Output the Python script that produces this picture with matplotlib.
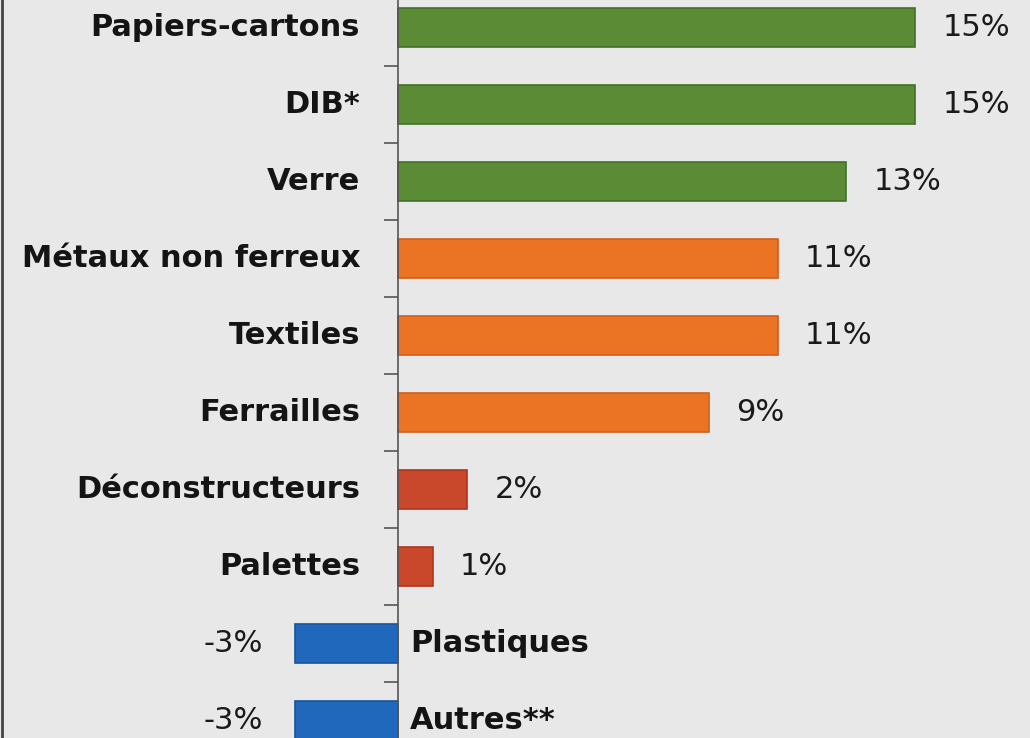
import matplotlib
matplotlib.use("Agg")
from matplotlib import pyplot as plt
import numpy as np

# chart data
categories = ["Papiers-cartons", "DIB*", "Verre", "Métaux non ferreux", "Textiles",
              "Ferrailles", "Déconstructeurs", "Palettes", "Plastiques", "Autres**"]
values = [15, 15, 13, 11, 11, 9, 2, 1, -3, -3]
value_labels = ["15%", "15%", "13%", "11%", "11%", "9%", "2%", "1%", "-3%", "-3%"]
groups = ["vert", "vert", "vert", "orange", "orange", "orange", "rouge", "rouge", "bleu", "bleu"]

colors = {"vert": "#5b8c35", "orange": "#ea7424", "rouge": "#c9472b", "bleu": "#1f68bb"}
edges = {"vert": "#44702a", "orange": "#d0601a", "rouge": "#ad3520", "bleu": "#17559c"}


def main():
    fig = plt.figure(figsize=(10.3, 7.38), dpi=100)
    fig.patch.set_facecolor("#e8e8e8")
    ax = fig.add_axes([0, 0, 1, 1])
    ax.set_facecolor("#e8e8e8")

    y = np.arange(len(categories))
    ax.barh(y, values, height=0.51,
            color=[colors[g] for g in groups],
            edgecolor=[edges[g] for g in groups], linewidth=1.2, zorder=2)

    # axes limits chosen so the zero line sits where the original has it
    ax.set_xlim(-11.54, 18.32)
    ax.set_ylim(9.23, -0.36)

    # only the zero line with small ticks between the categories
    for s in ["top", "right", "bottom"]:
        ax.spines[s].set_visible(False)
    ax.spines["left"].set_position(("data", 0))
    ax.spines["left"].set_color("#555555")
    ax.spines["left"].set_linewidth(1.2)
    ax.set_xticks([])
    ax.set_yticks(y[:-1] + 0.5)
    ax.set_yticklabels([])
    ax.tick_params(axis="y", length=10, width=1.2, color="#555555", direction="out")

    cat_font = dict(fontsize=22, color="#141414", family="DejaVu Sans", fontweight="bold")
    val_font = dict(fontsize=22, color="#1a1a1a", family="DejaVu Sans")
    for i, (cat, v, lab) in enumerate(zip(categories, values, value_labels)):
        if v >= 0:
            ax.text(-1.1, i, cat, ha="right", va="center", **cat_font)
            ax.text(v + 0.8, i, lab, ha="left", va="center", **val_font)
        else:
            ax.text(0.35, i, cat, ha="left", va="center", **cat_font)
            ax.text(v - 0.93, i, lab, ha="right", va="center", **val_font)

    # scan border on the left
    fig.add_artist(plt.Line2D([0.002, 0.002], [0, 1], color="#444444", lw=2))

    fig.savefig("out.png", dpi=100, facecolor=fig.get_facecolor())


if __name__ == "__main__":
    main()
